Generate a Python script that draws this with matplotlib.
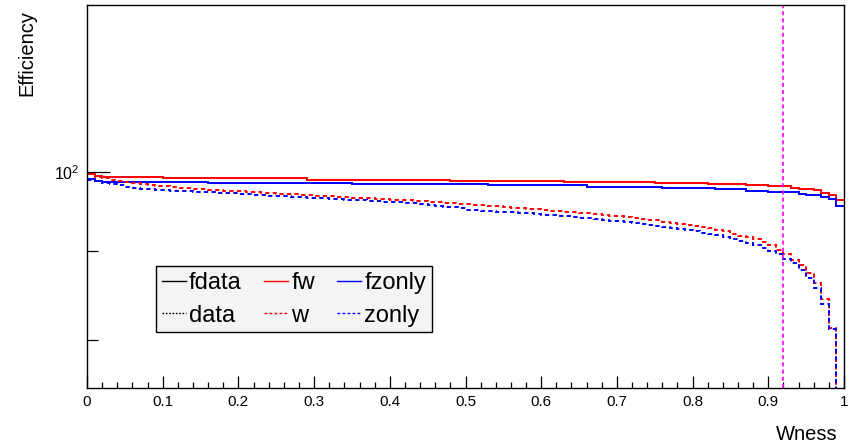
import numpy as np
import matplotlib
matplotlib.use("Agg")
import matplotlib.pyplot as plt
from matplotlib.lines import Line2D

plt.rcParams['font.family'] = ['Liberation Sans', 'DejaVu Sans']
plt.rcParams['mathtext.fontset'] = 'custom'
plt.rcParams['mathtext.rm'] = 'Liberation Sans'
plt.rcParams['mathtext.it'] = 'Liberation Sans:italic'

# ---------------- data ----------------
x_min, x_max, n_bins = 0.0, 1.0, 100
cut_value = 0.92

fw = [99.67, 99.41] + [99.27] * 8 + [99.14] * 19 + [98.97] * 19 + [98.84] * 15 + \
     [98.71] * 12 + [98.58] * 7 + [98.45] * 5 + [98.32] * 3 + [98.14] * 3 + \
     [97.93, 97.80, 97.80, 97.58, 97.28, 96.93, 96.30]

fzonly = [99.01, 98.79] + [98.71] * 14 + [98.53] * 19 + [98.36] * 18 + [98.23] * 13 + \
         [98.06] * 10 + [97.88] * 7 + [97.71] * 4 + [97.54] * 3 + [97.36] * 4 + \
         [97.15, 96.93, 96.93, 96.72, 96.42, 95.57]

w = [99.67, 99.32, 99.11, 98.95, 98.79, 98.66, 98.49, 98.36, 98.26, 98.16,
     98.10, 98.01, 97.93, 97.87, 97.80, 97.74, 97.67, 97.61, 97.54, 97.48,
     97.43, 97.36, 97.31, 97.24, 97.19, 97.14, 97.09, 97.04, 96.99, 96.93,
     96.88, 96.83, 96.78, 96.73, 96.68, 96.63, 96.57, 96.52, 96.47, 96.42,
     96.37, 96.32, 96.27, 96.22, 96.17, 96.12, 96.06, 96.00, 95.94, 95.87,
     95.79, 95.72, 95.66, 95.58, 95.51, 95.43, 95.36, 95.28, 95.22, 95.14,
     95.07, 94.99, 94.91, 94.84, 94.78, 94.70, 94.63, 94.55, 94.46, 94.36,
     94.28, 94.18, 94.08, 93.98, 93.86, 93.75, 93.61, 93.47, 93.32, 93.16,
     93.06, 92.91, 92.76, 92.60, 92.40, 92.14, 91.90, 91.70, 91.45, 91.08,
     90.72, 90.12, 89.71, 88.99, 88.35, 87.42, 86.27, 84.46, 81.33, 0.0]

zonly = [98.95, 98.82, 98.58, 98.39, 98.23, 98.06, 97.90, 97.80, 97.71, 97.64,
         97.58, 97.53, 97.48, 97.44, 97.40, 97.35, 97.31, 97.27, 97.22, 97.17,
         97.12, 97.06, 97.00, 96.95, 96.90, 96.85, 96.79, 96.74, 96.68, 96.63,
         96.57, 96.52, 96.47, 96.42, 96.37, 96.32, 96.27, 96.22, 96.17, 96.12,
         96.06, 96.01, 95.95, 95.89, 95.79, 95.68, 95.58, 95.48, 95.38, 95.26,
         95.12, 95.03, 94.97, 94.90, 94.86, 94.81, 94.75, 94.69, 94.63, 94.56,
         94.49, 94.41, 94.34, 94.26, 94.18, 94.09, 94.00, 93.91, 93.83, 93.74,
         93.65, 93.55, 93.44, 93.33, 93.22, 93.10, 92.97, 92.83, 92.67, 92.54,
         92.42, 92.26, 92.10, 91.93, 91.70, 91.45, 91.20, 90.96, 90.72, 90.36,
         90.00, 89.65, 89.11, 88.64, 87.77, 86.90, 85.75, 83.98, 81.17, 0.0]

# fdata / data are not visible within the plotted range
fdata = []
data = []

legend_labels = ["fdata", "data", "fw", "w", "fzonly", "zonly"]
x_ticks = [0.0, 0.1, 0.2, 0.3, 0.4, 0.5, 0.6, 0.7, 0.8, 0.9, 1.0]
x_ticklabels = ["0", "0.1", "0.2", "0.3", "0.4", "0.5", "0.6", "0.7", "0.8", "0.9", "1"]
y_lim = (75.1, 124.7)

# ---------------- figure ----------------
W, H = 850, 446
fig = plt.figure(figsize=(W / 100, H / 100), dpi=100)
ax = fig.add_axes([87 / W, 1 - 388 / H, 757 / W, 383 / H])

edges = np.linspace(x_min, x_max, n_bins + 1)
lw = 1.4
dash = (2.2, 1.7)

ax.stairs(fw, edges, baseline=None, color='#ff0000', lw=lw)
ax.stairs(fzonly, edges, baseline=None, color='#0000ff', lw=lw)
ax.stairs(w, edges, baseline=None, color='#ff0000', lw=lw, linestyle=(0, dash))
ax.stairs(zonly, edges, baseline=None, color='#0000ff', lw=lw, linestyle=(0, dash))

ax.axvline(cut_value, color='#ff00ff', lw=1.2, linestyle=(0, (2.5, 1.8)))

ax.set_yscale('log', nonpositive='clip')
ax.set_xlim(x_min, x_max)
ax.set_ylim(*y_lim)

ax.set_xticks(x_ticks)
ax.set_xticklabels(x_ticklabels)
ax.set_xticks(np.arange(0, 1.0001, 0.02), minor=True)
ax.set_yticks([100])
ax.set_yticklabels([r'$10^{2}$'])
ax.set_yticks([80, 90], minor=True)
ax.yaxis.set_minor_formatter(plt.NullFormatter())

ax.tick_params(axis='x', which='major', direction='in', length=8.5, width=0.9,
               labelsize=11, pad=5, top=False, colors='black')
ax.tick_params(axis='x', which='minor', direction='in', length=4.3, width=0.9, top=False)
ax.tick_params(axis='y', which='major', direction='in', length=16.5, width=0.9,
               labelsize=11.5, pad=5, right=False)
ax.tick_params(axis='y', which='minor', direction='in', length=8.2, width=0.9, right=False)

for s in ax.spines.values():
    s.set_color('black')
    s.set_linewidth(1.0)

ax.set_xlabel('Wness', fontsize=14.5, loc='right')
ax.xaxis.set_label_coords(0.992, -0.1365)
ax.xaxis.label.set_va('baseline')
ax.set_ylabel('Efficiency', fontsize=14.5, loc='top')
ax.yaxis.set_label_coords(-0.079, 0.987)
ax.yaxis.label.set_va('center')

# legend proxies
styles = [('black', '-'), ('black', (0, (1.2, 1.2))), ('#ff0000', '-'),
          ('#ff0000', (0, (2.0, 1.6))), ('#0000ff', '-'), ('#0000ff', (0, (2.0, 1.6)))]
handles = [Line2D([], [], color=c, lw=1.0, linestyle=ls, label=l)
           for (c, ls), l in zip(styles, legend_labels)]
x0 = (156 - 87) / 757
y1 = (388 - 266) / 383
y0 = (388 - 331) / 383
leg = ax.legend(handles=handles, ncol=3, loc='upper left',
                bbox_to_anchor=(x0, y0, (432 - 156) / 757, y1 - y0),
                mode='expand', fontsize=17, handlelength=1.0, handletextpad=0.15,
                columnspacing=0.5, borderpad=0.25, labelspacing=0.45,
                borderaxespad=0.0, frameon=True, fancybox=False)
fr = leg.get_frame()
fr.set_facecolor('#f4f4f4')
fr.set_edgecolor('black')
fr.set_linewidth(1.0)
fr.set_alpha(1.0)

fig.savefig('out.png', dpi=100, facecolor='white')
